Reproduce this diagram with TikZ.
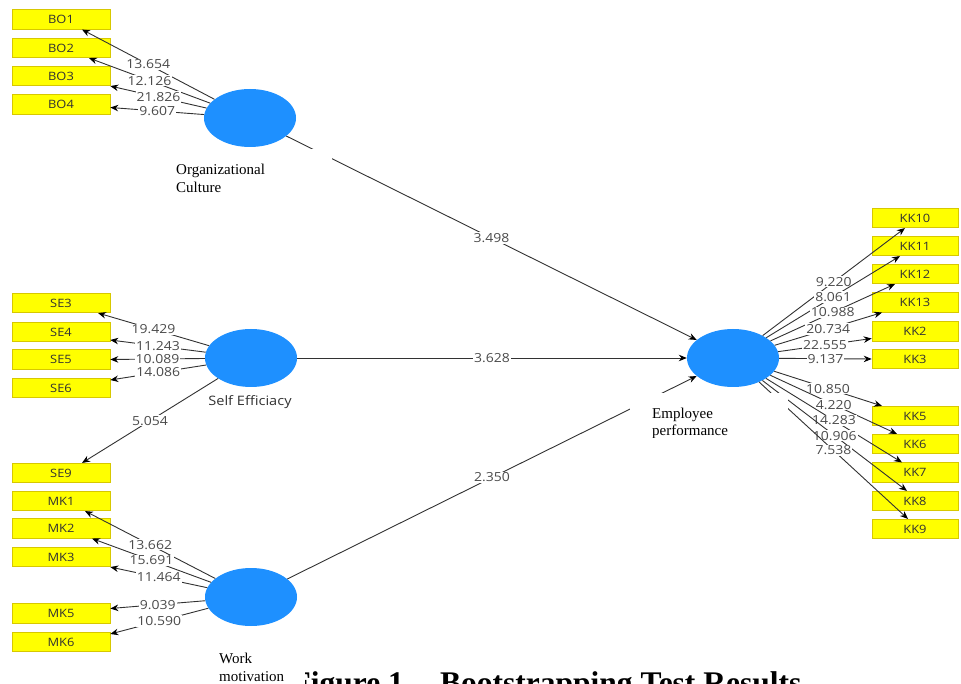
\documentclass[tikz,border=0pt]{standalone}
\usepackage{fontspec}
\setmainfont{Liberation Serif}
\newfontfamily\uifont[FakeStretch=1.12]{Open Sans}
\usetikzlibrary{shapes.geometric,arrows.meta}
\definecolor{lvblue}{RGB}{30,144,255}
\definecolor{indy}{RGB}{255,255,0}
\definecolor{indyline}{RGB}{215,200,0}
\definecolor{edgecol}{RGB}{50,50,50}
\definecolor{numcol}{RGB}{75,75,75}
\definecolor{textcol}{RGB}{50,50,50}
\begin{document}
\begin{tikzpicture}[x=1pt,y=-1pt,
  latent/.style={ellipse, fill=lvblue, minimum width=92pt, minimum height=58pt, inner sep=0pt},
  indL/.style={rectangle, draw=indyline, line width=0.6pt, fill=indy, minimum width=98pt,
    minimum height=19.5pt, inner sep=0pt, font=\uifont\fontsize{11.5}{13}\selectfont, text=textcol},
  indR/.style={indL, minimum width=86pt},
  edge/.style={draw=edgecol, line width=0.9pt, -{Stealth[length=8pt,width=6.5pt,black]}},
  wt/.style={fill=white, inner sep=1pt, text=numcol, font=\uifont\fontsize{12.5}{14}\selectfont},
  lvtext/.style={font=\fontsize{15}{17}\selectfont, inner sep=0pt, anchor=base west},
  titletext/.style={font=\bfseries\fontsize{31.5}{35}\selectfont, inner sep=0pt},
]
\useasboundingbox (0,0) rectangle (961,684);
\fill[white] (0,0) rectangle (961,684);

% title (partly hidden, as in the reference)
\node[titletext, anchor=base east] (figno) at (412,693) {Figure 1.};
\node[titletext, anchor=base west] (figcap) at (440,693) {Bootstrapping Test Results};

% latent variables
\node[latent] (OC) at (250,118) {};
\node[latent] (SE) at (251,358) {};
\node[latent] (WM) at (251,597) {};
\node[latent] (EP) at (733,358) {};

% indicators left
\node[indL] (BO1) at (61,19.5) {BO1};
\node[indL] (BO2) at (61,48) {BO2};
\node[indL] (BO3) at (61,76) {BO3};
\node[indL] (BO4) at (61,104.5) {BO4};
\node[indL] (SE3) at (61,303) {SE3};
\node[indL] (SE4) at (61,332) {SE4};
\node[indL] (SE5) at (61,359.5) {SE5};
\node[indL] (SE6) at (61,388) {SE6};
\node[indL] (SE9) at (61,473) {SE9};
\node[indL] (MK1) at (61,501) {MK1};
\node[indL] (MK2) at (61,528.5) {MK2};
\node[indL] (MK3) at (61,557) {MK3};
\node[indL] (MK5) at (61,613.5) {MK5};
\node[indL] (MK6) at (61,642) {MK6};

% indicators right
\node[indR] (KK10) at (915,218) {KK10};
\node[indR] (KK11) at (915,246) {KK11};
\node[indR] (KK12) at (915,274) {KK12};
\node[indR] (KK13) at (915,302.5) {KK13};
\node[indR] (KK2) at (915,331.5) {KK2};
\node[indR] (KK3) at (915,359) {KK3};
\node[indR] (KK5) at (915,416) {KK5};
\node[indR] (KK6) at (915,444) {KK6};
\node[indR] (KK7) at (915,472.5) {KK7};
\node[indR] (KK8) at (915,501) {KK8};
\node[indR] (KK9) at (915,529) {KK9};

% outer loadings
\draw[edge] (OC) -- node[wt]{13.654} ([xshift=21pt]BO1.south);
\draw[edge] (OC) -- node[wt]{12.126} ([xshift=28pt]BO2.south);
\draw[edge] (OC) -- node[wt]{21.826} (BO3.south east);
\draw[edge] (OC) -- node[wt]{9.607} ([yshift=-3pt]BO4.east);

\draw[edge] (SE) -- node[wt]{19.429} ([xshift=37pt]SE3.south);
\draw[edge] (SE) -- node[wt]{11.243} ([yshift=-8pt]SE4.east);
\draw[edge] (SE) -- node[wt]{10.089} (SE5.east);
\draw[edge] (SE) -- node[wt]{14.086} ([yshift=8pt]SE6.east);
\draw[edge] (SE) -- node[wt]{5.054} ([xshift=21pt]SE9.north);

\draw[edge] (WM) -- node[wt]{13.662} ([xshift=24pt]MK1.south);
\draw[edge] (WM) -- node[wt]{15.691} ([xshift=31pt]MK2.south);
\draw[edge] (WM) -- node[wt]{11.464} (MK3.south east);
\draw[edge] (WM) -- node[wt]{9.039} ([yshift=5pt]MK5.east);
\draw[edge] (WM) -- node[wt]{10.590} ([yshift=8pt]MK6.east);

\draw[edge] (EP) -- node[wt]{9.220} ([xshift=-10pt]KK10.south);
\draw[edge] (EP) -- node[wt]{8.061} ([xshift=-15pt]KK11.south);
\draw[edge] (EP) -- node[wt]{10.988} ([xshift=-20pt]KK12.south);
\draw[edge] (EP) -- node[wt]{20.734} ([xshift=-33pt]KK13.south);
\draw[edge] (EP) -- node[wt]{22.555} ([yshift=-7pt]KK2.west);
\draw[edge] (EP) -- node[wt]{9.137} (KK3.west);
\draw[edge] (EP) -- node[wt]{10.850} ([xshift=-33pt]KK5.north);
\draw[edge] (EP) -- node[wt]{4.220} ([xshift=-18pt]KK6.north);
\draw[edge] (EP) -- node[wt]{14.283} ([xshift=-13pt]KK7.north);
\draw[edge] (EP) -- node[wt]{10.906} ([xshift=-8pt]KK8.north);
\draw[edge] (EP) -- node[wt]{7.538} ([xshift=-7pt]KK9.north);

% inner model
\draw[edge] (OC) -- node[wt]{3.498} (EP);
\draw[edge] (SE) -- node[wt]{3.628} (EP);
\draw[edge] (WM) -- node[wt]{2.350} (EP);

% latent labels
\node[font=\uifont\fontsize{13}{15}\selectfont, text=textcol] (SElbl) at (250,402) {Self Efficiacy};

\fill[white] (168,149) rectangle (332,205);
\node[lvtext] (OCl1) at (176,175) {Organizational};
\node[lvtext] (OCl2) at (176,193) {Culture};

\fill[white] (630,393) rectangle (788,437);
\begin{scope}
  \clip (630,393) rectangle (788,437);
  \node[lvtext] (EPl1) at (652,418) {Employee};
  \node[lvtext] (EPl2) at (652,435) {performance};
\end{scope}

\fill[white] (212,645) rectangle (305,684);
\node[lvtext] (WMl1) at (219,663) {Work};
\node[lvtext] (WMl2) at (219,681) {motivation};
\end{tikzpicture}
\end{document}
